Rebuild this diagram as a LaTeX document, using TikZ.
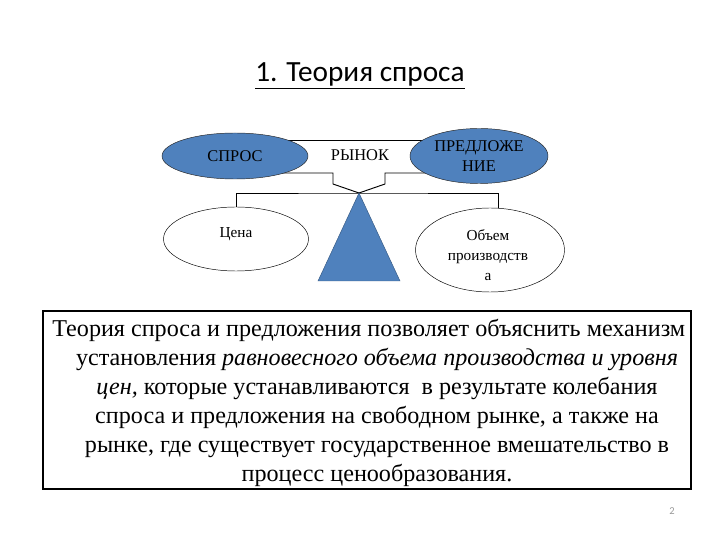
\documentclass[tikz,border=0pt]{standalone}
\usepackage{fontspec}
\setmainfont{Liberation Serif}
\newfontfamily\titlefont{Carlito}
\usetikzlibrary{shapes.geometric,backgrounds,calc}

\definecolor{offblue}{RGB}{79,129,189}
\tikzset{
  blueoval/.style={ellipse, draw=black!85, fill=offblue, inner sep=0pt, align=center,
    font=\fontsize{14}{17}\selectfont},
  whiteoval/.style={ellipse, draw=black, fill=white, inner sep=0pt},
  ovaltext/.style={align=center, font=\fontsize{13}{17}\selectfont},
  link/.style={draw=black, line width=0.8pt}
}

\begin{document}
\begin{tikzpicture}[x=0.03cm, y=-0.03cm]
    \useasboundingbox (0,0) rectangle (720,540);

    % Title
    \node (title) at (360,76) {\titlefont\fontsize{25}{30}\selectfont\underline{1. Теория спроса}};

    % Ovals of the scheme
    \node[blueoval, minimum width=4.38cm, minimum height=1.38cm] (spros) at (235,156) {СПРОС};
    \node[blueoval, minimum width=4.14cm, minimum height=1.65cm] (predl) at (479,156) {ПРЕДЛОЖЕ\\НИЕ};
    \node[font=\fontsize{14}{17}\selectfont] (rynok) at (360,155) {РЫНОК};
    \node[whiteoval, minimum width=4.35cm, minimum height=1.92cm] (cena) at (236,239) {};
    \node[ovaltext] (cenatext) at ($(cena.center)+(0,-5)$) {Цена};
    \node[whiteoval, minimum width=4.47cm, minimum height=2.52cm] (obem) at (490,250) {};
    \node[ovaltext] (obemtext) at ($(obem.center)+(-2,5)$) {Объем\\производств\\а};

    % Balance: pivot and knees
    \coordinate (apex) at (359,193);
    \coordinate (lknee) at (333,184);
    \coordinate (rknee) at (385,184);
    \coordinate (baseL) at (318,281);
    \coordinate (baseR) at (400,281);

    % Market lines behind the ovals
    \begin{scope}[on background layer]
        \draw[link] ($(spros.center)+(0,-16)$) -- ($(predl.center)+(0,-16)$);
        \draw[link] ($(spros.center)+(0,17)$) -| (lknee) -- (apex);
        \draw[link] ($(predl.center)+(0,17)$) -| (rknee) -- (apex);
    \end{scope}

    % Beam and triangle
    \draw[link] (cena.north) |- (apex) -| ($(obem.north)+(8,0)$);
    \fill[offblue, draw=offblue!70!black, line width=0.4pt] (apex) -- (baseR) -- (baseL) -- cycle;

    % Text box
    \node[draw, line width=1pt, minimum width=19.44cm, minimum height=5.34cm, inner sep=0pt] (box) at (367,400) {};
    \node[align=center, inner sep=0pt, font=\fontsize{20.6}{24.7}\selectfont] (theory) at (377,403)
        {\hspace*{-14pt}Теория спроса и предложения позволяет объяснить механизм\\
         установления \textit{равновесного объема производства и уровня}\\
         \textit{цен,} которые устанавливаются~ в результате колебания\\
         спроса и предложения на свободном рынке, а также на\\
         рынке, где существует государственное вмешательство в\\
         процесс ценообразования.};

    % Page number
    \node[text=black!40, font=\titlefont\fontsize{9}{10}\selectfont] (page) at (672,511) {2};
\end{tikzpicture}
\end{document}
